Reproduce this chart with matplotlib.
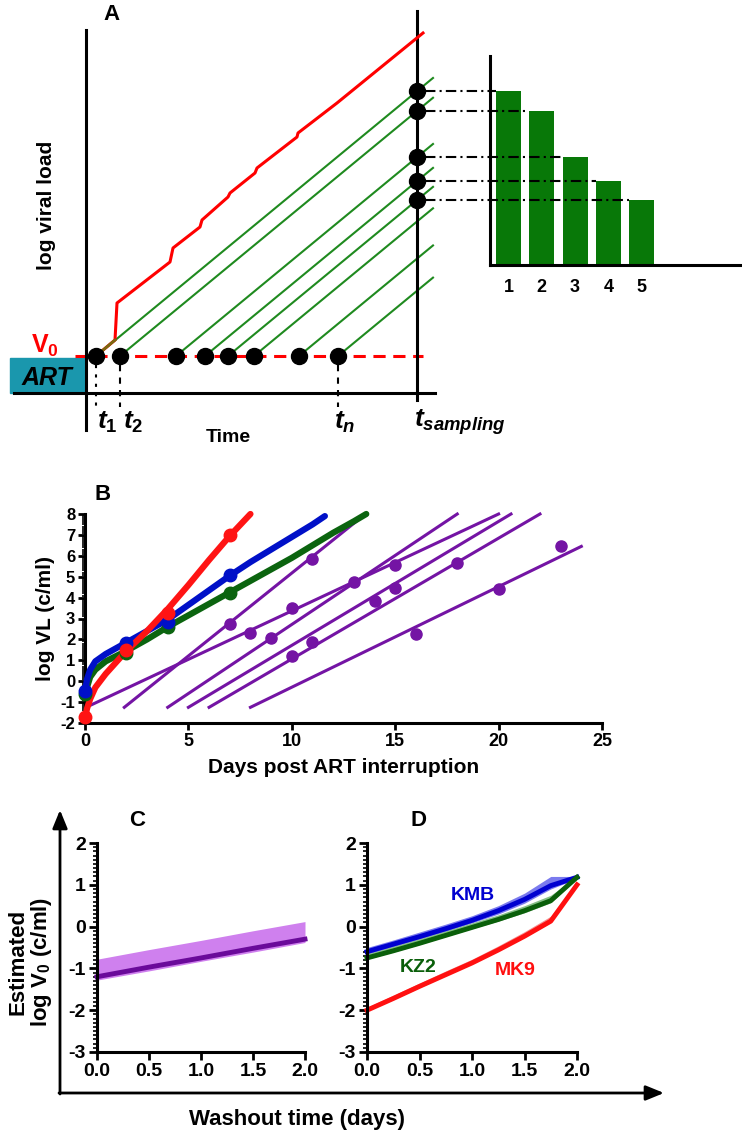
import numpy as np
import matplotlib
matplotlib.use('Agg')
import matplotlib.pyplot as plt
from matplotlib.patches import Rectangle
from matplotlib.ticker import MultipleLocator

plt.rcParams['font.family'] = ['Liberation Sans', 'DejaVu Sans']
plt.rcParams['font.weight'] = 'bold'
plt.rcParams['axes.labelweight'] = 'bold'
plt.rcParams['axes.unicode_minus'] = False
plt.rcParams['mathtext.fontset'] = 'custom'
plt.rcParams['mathtext.rm'] = 'Liberation Sans:bold'
plt.rcParams['mathtext.it'] = 'Liberation Sans:bold:italic'
plt.rcParams['mathtext.bf'] = 'Liberation Sans:bold'

# ---------------- A: schematic (arbitrary units) ----------------
react_t = [1.0, 3.4, 9.0, 11.9, 14.2, 16.8, 21.3, 25.2]
growth = 0.825
v0 = 0.0
t_sampling = 33.1
t_end = 34.7
n_sampled = 5
total_t = [2.9, 3.1, 8.4, 8.7, 11.4, 11.6, 14.2, 14.4, 16.9, 17.1, 21.1, 21.2, 25.1, 33.7]
total_v = [1.6, 5.3, 9.4, 10.8, 12.9, 13.6, 15.9, 16.3, 18.3, 18.8, 21.9, 22.3, 25.3, 32.3]
bar_labels = ['1', '2', '3', '4', '5']

# ---------------- B: viral load after ART interruption ----------------
red_t = [0, 0.1, 0.25, 0.5, 1, 1.5, 2, 3, 4, 5, 6, 7, 8]
red_v = [-1.75, -1.3, -0.85, -0.3, 0.35, 0.9, 1.45, 2.4, 3.45, 4.6, 5.8, 6.95, 8.0]
red_pt_t = [0, 2, 4, 7]
red_pt_v = [-1.7, 1.5, 3.25, 7.0]

blue_t = [0, 0.1, 0.25, 0.5, 1, 2, 3, 4, 5, 6, 7, 8, 9, 10, 11, 11.6]
blue_v = [-0.5, 0.1, 0.55, 0.95, 1.3, 1.85, 2.4, 2.95, 3.65, 4.35, 5.05, 5.7, 6.3, 6.9, 7.5, 7.9]
blue_pt_t = [0, 2, 4, 7]
blue_pt_v = [-0.45, 1.85, 2.85, 5.1]

green_t = [0, 0.25, 0.5, 1, 2, 3, 4, 5, 6, 7, 8, 9, 10, 11, 12, 13, 13.6]
green_v = [-0.6, 0.2, 0.55, 0.95, 1.45, 2.0, 2.6, 3.15, 3.7, 4.25, 4.8, 5.35, 5.9, 6.5, 7.1, 7.65, 8.0]
green_pt_t = [0, 2, 4, 7]
green_pt_v = [-0.6, 1.35, 2.6, 4.2]

purple_start_t = [0.05, 1.9, 4.0, 5.0, 6.0, 8.0]
purple_start_v = [-1.25, -1.25, -1.25, -1.25, -1.25, -1.25]
purple_end_t = [20.0, 13.5, 18.0, 20.6, 22.0, 24.0]
purple_end_v = [8.0, 7.95, 8.0, 8.0, 8.0, 6.45]
purple_pt_t = [7, 8, 9, 10, 10, 11, 11, 13, 14, 15, 15, 16, 18, 20, 23]
purple_pt_v = [2.72, 2.32, 2.09, 3.52, 1.2, 5.85, 1.87, 4.75, 3.85, 5.58, 4.48, 2.25, 5.66, 4.41, 6.46]

# ---------------- C / D: estimated V0 vs washout time ----------------
wash_c = [0, 0.5, 1.0, 1.5, 2.0]
c_mean = [-1.2, -0.97, -0.75, -0.52, -0.3]
c_lo = [-1.28, -1.06, -0.83, -0.61, -0.38]
c_hi = [-0.78, -0.55, -0.33, -0.1, 0.12]

wash_d = [0, 0.25, 0.5, 0.75, 1.0, 1.25, 1.5, 1.75, 2.0]
kmb = [-0.6, -0.42, -0.24, -0.05, 0.15, 0.38, 0.65, 0.98, 1.18]
kmb_hi = [-0.5, -0.32, -0.13, 0.06, 0.26, 0.5, 0.8, 1.2, 1.2]
kmb_lo = [-0.66, -0.48, -0.3, -0.11, 0.09, 0.3, 0.56, 0.9, 1.15]
kz2 = [-0.75, -0.58, -0.4, -0.21, -0.02, 0.17, 0.38, 0.62, 1.18]
kz2_hi = [-0.65, -0.47, -0.29, -0.1, 0.09, 0.28, 0.5, 0.75, 1.2]
kz2_lo = [-0.78, -0.61, -0.43, -0.24, -0.05, 0.13, 0.33, 0.57, 1.15]
mk9 = [-2.0, -1.72, -1.43, -1.15, -0.87, -0.56, -0.23, 0.13, 1.0]
mk9_hi = [-1.93, -1.64, -1.35, -1.06, -0.78, -0.46, -0.12, 0.25, 1.05]
mk9_lo = [-2.02, -1.75, -1.46, -1.17, -0.89, -0.58, -0.26, 0.1, 0.98]

W, H = 742, 1134
fig = plt.figure(figsize=(W / 100, H / 100), dpi=100)


def px_axes(l, t, r, b):
    return fig.add_axes([l / W, 1 - b / H, (r - l) / W, (b - t) / H])


# ===== panel A =====
axA = px_axes(0, 0, W, 460)
axA.set_xlim(-8.6, 65.6)
axA.set_ylim(-10.4, 35.6)
axA.axis('off')

GREEN_A = '#1f8a1f'
axA.add_patch(Rectangle((-7.6, -3.7), 7.6, 3.5, color='#1a97ad', zorder=1))
axA.plot([0, 0], [-7.4, 32.6], color='k', lw=2.2, zorder=3)
axA.plot([-7.2, 34.9], [-3.7, -3.7], color='k', lw=2.2, zorder=3)
axA.plot([t_sampling, t_sampling], [-4.4, 34.5], color='k', lw=2.2, zorder=3)
axA.plot([-1.1, 33.7], [v0, v0], color='red', lw=2.2, dashes=(4, 2.5), zorder=2)

for ti in react_t:
    axA.plot([ti, t_end], [v0, v0 + growth * (t_end - ti)], color=GREEN_A, lw=1.5, zorder=2)

# total virus trace
axA.plot([react_t[0]] + total_t, [v0] + total_v, color='red', lw=2.2, zorder=3)
axA.plot([react_t[0], total_t[0]], [v0, total_v[0]], color='#7a6a10', lw=2, zorder=3)

axA.plot(react_t, [v0] * len(react_t), 'o', color='k', ms=11.5, zorder=5)

samp_v = [v0 + growth * (t_sampling - ti) for ti in react_t[:n_sampled]]
axA.plot([t_sampling] * n_sampled, samp_v, 'o', color='k', ms=11.5, zorder=5)

for ti, ls in zip([react_t[0], react_t[1], react_t[-1]], [(0, (1.5, 3)), (0, (3, 3)), (0, (3, 3))]):
    axA.plot([ti, ti], [-0.9, -5.1], color='k', lw=1.5, linestyle=ls, zorder=2)

# bar inset
inset_x0, bar_base = 40.4, 9.1
bar_x = [42.25 + 3.33 * i for i in range(n_sampled)]
axA.bar(bar_x, np.array(samp_v) - bar_base, bottom=bar_base, width=2.5, color='#087808', zorder=2)
axA.plot([inset_x0, inset_x0], [30.0, bar_base], color='k', lw=2.2, zorder=3)
axA.plot([inset_x0, 65.4], [bar_base, bar_base], color='k', lw=2.2, zorder=3)
for i, sv in enumerate(samp_v):
    axA.plot([33.9, bar_x[i] - 1.25], [sv, sv], color='k', lw=1.5, dashes=(5, 2, 1, 2), zorder=4)
    axA.text(bar_x[i], 6.9, bar_labels[i], ha='center', va='center', fontsize=13)

axA.text(2.5, 34.1, 'A', ha='center', va='center', fontsize=16)
axA.text(-3.9, 15.1, 'log viral load', rotation=90, ha='center', va='center', fontsize=15)
axA.text(-4.1, 1.0, r'V$_0$', color='red', ha='center', va='center', fontsize=18)
axA.text(-3.9, -2.2, 'ART', style='italic', ha='center', va='center', fontsize=18, zorder=4)
axA.text(2.1, -6.6, r'$t_1$', ha='center', va='center', fontsize=19)
axA.text(4.7, -6.6, r'$t_2$', ha='center', va='center', fontsize=19)
axA.text(25.9, -6.6, r'$t_n$', ha='center', va='center', fontsize=19)
axA.text(32.8, -6.6, r'$t_{sampling}$', ha='left', va='center', fontsize=19)
axA.text(14.2, -8.2, 'Time', ha='center', va='center', fontsize=14)


def style_axes(ax, lab_size, x_size=None, major_len=6, minor_len=3):
    for s in ['top', 'right']:
        ax.spines[s].set_visible(False)
    for s in ['left', 'bottom']:
        ax.spines[s].set_linewidth(2.2)
    ax.tick_params(which='major', width=2, length=major_len, labelsize=lab_size, pad=2)
    ax.tick_params(which='minor', width=1.2, length=minor_len)
    ax.tick_params(axis='x', which='minor', bottom=False)
    if x_size:
        ax.tick_params(axis='x', labelsize=x_size)


# ===== panel B =====
axB = px_axes(85, 514, 602, 723)
PURPLE = '#7414a4'
for st, sv, et, ev in zip(purple_start_t, purple_start_v, purple_end_t, purple_end_v):
    axB.plot([st, et], [sv, ev], color=PURPLE, lw=2.2, clip_on=False, zorder=2)
axB.plot(purple_pt_t, purple_pt_v, 'o', color=PURPLE, ms=8, clip_on=False, zorder=3)
for t, v, pt, pv, col in [(green_t, green_v, green_pt_t, green_pt_v, '#0b640f'),
                          (blue_t, blue_v, blue_pt_t, blue_pt_v, '#0010c8'),
                          (red_t, red_v, red_pt_t, red_pt_v, '#ff1414')]:
    axB.plot(t, v, color=col, lw=4.5, clip_on=False, solid_capstyle='round', zorder=4)
    axB.plot(pt, pv, 'o', color=col, ms=9, clip_on=False, zorder=5)
axB.set_xlim(0, 25)
axB.set_ylim(-2, 8)
axB.set_xticks(range(0, 26, 5))
axB.set_yticks(range(-2, 9))
axB.yaxis.set_minor_locator(MultipleLocator(0.1))
style_axes(axB, 12, 13, major_len=5, minor_len=2)
axB.set_ylabel('log VL (c/ml)', fontsize=15, labelpad=4)
axB.set_xlabel('Days post ART interruption', fontsize=15, labelpad=6)
fig.text(103 / W, 1 - 494 / H, 'B', fontsize=16, ha='center', va='center')

# ===== panel C =====
axC = px_axes(97, 843, 305, 1052)
axC.fill_between(wash_c, c_lo, c_hi, color='#cf80ee', lw=0)
axC.plot(wash_c, c_mean, color='#6a0a9a', lw=3.5, clip_on=False)

# ===== panel D =====
axD = px_axes(367, 843, 577, 1052)
for m, lo, hi, col, band in [(kmb, kmb_lo, kmb_hi, '#0000d0', '#7a7aee'),
                             (kz2, kz2_lo, kz2_hi, '#0a5f0a', '#86be86'),
                             (mk9, mk9_lo, mk9_hi, '#ff1010', '#f49090')]:
    axD.fill_between(wash_d, lo, hi, color=band, lw=0, clip_on=False)
    axD.plot(wash_d, m, color=col, lw=3.5, clip_on=False)
axD.text(1.01, 0.75, 'KMB', color='#0000d0', fontsize=14, ha='center', va='center')
axD.text(0.49, -0.97, 'KZ2', color='#0a5f0a', fontsize=14, ha='center', va='center')
axD.text(1.41, -1.05, 'MK9', color='#ff1010', fontsize=14, ha='center', va='center')

for ax in (axC, axD):
    ax.set_xlim(0, 2)
    ax.set_ylim(-3, 2)
    ax.set_xticks([0, 0.5, 1.0, 1.5, 2.0])
    ax.set_xticklabels(['0.0', '0.5', '1.0', '1.5', '2.0'])
    ax.set_yticks(range(-3, 3))
    ax.yaxis.set_minor_locator(MultipleLocator(0.1))
    style_axes(ax, 14)

fig.text(137 / W, 1 - 820 / H, 'C', fontsize=16, ha='center', va='center')
fig.text(419 / W, 1 - 820 / H, 'D', fontsize=16, ha='center', va='center')

# outer arrows and shared labels
arrow = dict(arrowstyle='-|>,head_width=0.45,head_length=1.1', color='k', lw=2, shrinkA=0, shrinkB=0)
plt.annotate('', xy=(60, H - 810), xytext=(60, H - 1094), xycoords='figure pixels', arrowprops=arrow)
plt.annotate('', xy=(664, H - 1093), xytext=(59, H - 1093), xycoords='figure pixels', arrowprops=arrow)
fig.text(18 / W, 1 - 962 / H, 'Estimated', rotation=90, fontsize=16, ha='center', va='center')
fig.text(42 / W, 1 - 962 / H, r'log V$_0$ (c/ml)', rotation=90, fontsize=16, ha='center', va='center')
fig.text(297 / W, 1 - 1120 / H, 'Washout time (days)', fontsize=16, ha='center', va='center')

fig.savefig('out.png', dpi=100)
